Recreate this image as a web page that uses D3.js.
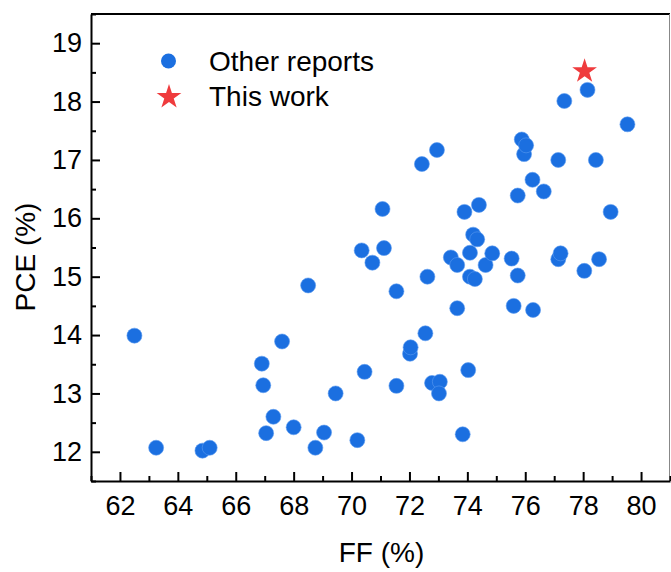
<!DOCTYPE html>
<html>
<head>
<meta charset="utf-8">
<script src="https://cdn.jsdelivr.net/npm/d3@7"></script>
<style>
  body { margin: 0; background: #fff; }
  svg { font-family: "Liberation Sans", Arial, sans-serif; }
</style>
</head>
<body>
<div id="chart"></div>
<script>
// FF (%) and PCE (%) of other reports
const otherFF = [62.5, 63.25, 64.85, 65.1, 66.9, 66.95, 67.05, 67.3, 67.6, 68.0, 68.5, 68.75, 69.05, 69.45,
  70.2, 70.35, 70.45, 70.72, 71.07, 71.12, 71.55, 71.55, 72.02, 72.04, 72.43, 72.55, 72.62, 72.78,
  72.95, 73.05, 73.02, 73.43, 73.65, 73.65, 73.84, 73.9, 74.03, 74.09, 74.09, 74.2, 74.26, 74.34,
  74.4, 74.63, 74.86, 75.53, 75.6, 75.74, 75.74, 75.88, 75.96, 76.03, 76.25, 76.27, 76.64, 77.14,
  77.14, 77.22, 77.35, 78.04, 78.15, 78.44, 78.55, 78.95, 79.53];
const otherPCE = [13.99, 12.07, 12.02, 12.07, 13.51, 13.14, 12.32, 12.6, 13.89, 12.42, 14.85, 12.07, 12.33, 13.0,
  12.2, 15.45, 13.37, 15.24, 16.16, 15.49, 13.13, 14.75, 13.68, 13.79, 16.93, 14.03, 15.0, 13.18,
  17.17, 13.2, 13.0, 15.33, 15.2, 14.46, 12.3, 16.11, 13.4, 15.41, 15.0, 15.72, 14.96, 15.64,
  16.23, 15.2, 15.4, 15.31, 14.5, 15.02, 16.39, 17.35, 17.1, 17.25, 16.66, 14.43, 16.46, 17.0,
  15.3, 15.4, 18.01, 15.1, 18.2, 17.0, 15.3, 16.11, 17.61];
const thisFF = [78.05];
const thisPCE = [18.52];

const xTicks = [62, 64, 66, 68, 70, 72, 74, 76, 78, 80];
const yTicks = [12, 13, 14, 15, 16, 17, 18, 19];
const legendLabels = ["Other reports", "This work"];

const W = 671, H = 572;
const margin = {left: 91, top: 14, right: 1, bottom: 91};
const blue = "#1b6fe0", red = "#ef3b3d";

const svg = d3.select("#chart").append("svg")
  .attr("width", W).attr("height", H);

const x = d3.scaleLinear().domain([61, 81]).range([margin.left, W - margin.right]);
const y = d3.scaleLinear().domain([11.5, 19.5]).range([H - margin.bottom, margin.top]);

// frame (top and right)
svg.append("line")
  .attr("x1", margin.left).attr("x2", W - margin.right)
  .attr("y1", margin.top).attr("y2", margin.top)
  .attr("stroke", "#000").attr("stroke-width", 2);
svg.append("line")
  .attr("x1", W - margin.right - 0.5).attr("x2", W - margin.right - 0.5)
  .attr("y1", margin.top).attr("y2", H - margin.bottom)
  .attr("stroke", "#888").attr("stroke-width", 1);

// minor ticks
svg.append("g")
  .attr("transform", `translate(0,${H - margin.bottom})`)
  .call(d3.axisBottom(x).tickValues(d3.range(61, 81.01, 2)).tickSize(-5).tickFormat(""))
  .call(g => g.select(".domain").remove())
  .call(g => g.selectAll("line").attr("stroke-width", 2));
svg.append("g")
  .attr("transform", `translate(${margin.left},0)`)
  .call(d3.axisLeft(y).tickValues(d3.range(11.5, 19.51, 1)).tickSize(-5).tickFormat(""))
  .call(g => g.select(".domain").remove())
  .call(g => g.selectAll("line").attr("stroke-width", 2));

// major axes
const xAxis = svg.append("g")
  .attr("transform", `translate(0,${H - margin.bottom})`)
  .call(d3.axisBottom(x).tickValues(xTicks).tickSize(-9).tickPadding(15).tickSizeOuter(0));
const yAxis = svg.append("g")
  .attr("transform", `translate(${margin.left},0)`)
  .call(d3.axisLeft(y).tickValues(yTicks).tickSize(-9).tickPadding(9).tickSizeOuter(0));

[xAxis, yAxis].forEach(g => {
  g.select(".domain").attr("stroke-width", 2);
  g.selectAll(".tick line").attr("stroke-width", 2);
  g.selectAll(".tick text").attr("font-size", 27).attr("fill", "#000")
    .style("font-family", "'Liberation Sans', Arial, sans-serif");
});

// axis titles
svg.append("text")
  .attr("x", 381.5).attr("y", 562)
  .attr("text-anchor", "middle").attr("font-size", 28).text("FF (%)");
svg.append("text")
  .attr("transform", "translate(35,257) rotate(-90)")
  .attr("text-anchor", "middle").attr("font-size", 28).text("PCE (%)");

// points
svg.append("g").selectAll("circle")
  .data(otherFF.map((f, i) => [f, otherPCE[i]]))
  .join("circle")
  .attr("cx", d => x(d[0])).attr("cy", d => y(d[1]))
  .attr("r", 7.5)
  .attr("fill", blue)
  .attr("stroke", "#5b9af0").attr("stroke-width", 0.6);

const star = d3.symbol(d3.symbolStar, 190);
svg.append("g").selectAll("path")
  .data(thisFF.map((f, i) => [f, thisPCE[i]]))
  .join("path")
  .attr("transform", d => `translate(${x(d[0])},${y(d[1])})`)
  .attr("d", star)
  .attr("fill", red);

// legend
const legend = svg.append("g");
legend.append("circle").attr("cx", 168.5).attr("cy", 61).attr("r", 7.5).attr("fill", blue);
legend.append("path").attr("transform", "translate(169,97)").attr("d", star).attr("fill", red);
legend.selectAll("text").data(legendLabels).join("text")
  .attr("x", 209).attr("y", (d, i) => 71 + i * 35)
  .attr("font-size", 28).text(d => d);
</script>
</body>
</html>
